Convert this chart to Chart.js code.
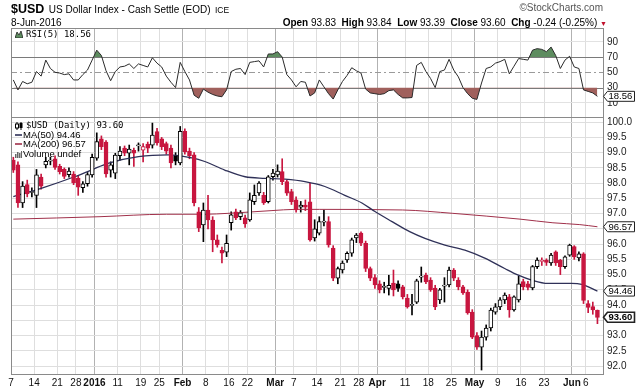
<!DOCTYPE html>
<html><head><meta charset="utf-8">
<script src="https://cdn.jsdelivr.net/npm/chart.js@4.4.1/dist/chart.umd.min.js"></script>
<style>
html,body{margin:0;padding:0;background:#fff;}
#wrap{position:relative;width:640px;height:389px;overflow:hidden;font-family:"Liberation Sans",Arial,sans-serif;color:#000;}
#c{position:absolute;left:0;top:0;}
.t{position:absolute;white-space:nowrap;}
.mono{font-family:"DejaVu Sans Mono",monospace;font-size:9px;line-height:10px;}
.lg{font-family:"Liberation Sans",Arial,sans-serif;font-size:9.5px;line-height:10px;}
.t svg{vertical-align:middle;margin-right:3px;}
</style></head><body>
<div id="wrap">
<canvas id="c" width="640" height="389"></canvas>
<div class="t" style="left:11px;top:0px;line-height:16px;"><span style="font-size:12.5px;font-weight:bold">$USD</span> <span style="font-size:10px">US Dollar Index - Cash Settle (EOD)</span> <span style="font-size:8.5px">ICE</span></div>
<div class="t" style="right:37px;top:1px;font-size:10px;color:#555;line-height:14px">©StockCharts.com</div>
<div class="t" style="left:11px;top:17px;font-size:10px;line-height:12px">8-Jun-2016</div>
<div class="t" style="right:33px;top:16px;font-size:10px;line-height:13px"><b>Open</b> 93.83 &nbsp;<b>High</b> 93.84 &nbsp;<b>Low</b> 93.39 &nbsp;<b>Close</b> 93.60 &nbsp;<b>Chg</b> -0.24 (-0.25%) <span style="color:#c0102c;font-size:7px">▼</span></div>

<div class="t mono" style="left:15px;top:29px;"><svg width="8" height="7"><path d="M0 7 L2 1 L4 4 L6 0 L8 7 Z" fill="#5d8c5f" stroke="#222" stroke-width="0.8"/></svg>RSI(5) 18.56</div>
<div class="t mono" style="left:15px;top:120px;"><svg width="8" height="8"><line x1="2" y1="0" x2="2" y2="8" stroke="#000"/><rect x="0.5" y="2" width="3" height="4" fill="#fff" stroke="#000"/><line x1="6" y1="0" x2="6" y2="8" stroke="#000"/><rect x="4.5" y="1" width="3" height="5" fill="#000"/></svg>$USD (Daily) 93.60</div>
<div class="t lg" style="left:15px;top:129.5px;"><svg width="7" height="4" style="margin-right:1px"><line x1="0" y1="2" x2="7" y2="2" stroke="#2f3158" stroke-width="1.6"/></svg>MA(50) 94.46</div>
<div class="t lg" style="left:15px;top:139px;"><svg width="7" height="4" style="margin-right:1px"><line x1="0" y1="2" x2="7" y2="2" stroke="#a0304a" stroke-width="1.6"/></svg>MA(200) 96.57</div>
<div class="t lg" style="left:15px;top:149px;"><svg width="7" height="7" style="margin-right:1px"><rect x="0" y="3" width="1.5" height="4" fill="#666"/><rect x="2" y="1" width="1.5" height="6" fill="#666"/><rect x="4" y="2" width="1.5" height="5" fill="#666"/><rect x="6" y="0" width="1" height="7" fill="#666"/></svg>Volume undef</div>
</div>
<script>
// ---- data (Dec 7 2015 .. Jun 8 2016, one entry per trading day) ----
const opens = [98.76,98.60,97.35,97.95,97.70,97.60,98.20,98.60,98.72,98.80,
 98.55,98.45,98.28,98.30,98.17,97.85,97.98,98.27,98.82,99.45,
 99.35,98.43,98.33,98.90,99.15,98.98,99.08,99.22,99.08,99.28,
 99.25,99.69,99.45,99.30,99.15,98.90,98.66,99.70,99.05,98.93,
 97.06,96.63,97.12,96.79,96.14,95.80,95.74,96.70,97.06,96.90,
 96.86,96.79,97.39,97.68,97.60,97.39,98.21,98.27,98.38,98.05,
 97.72,97.45,97.21,97.28,97.39,96.20,96.36,96.72,96.74,95.87,
 94.88,95.15,95.48,95.70,96.20,96.36,96.03,95.20,94.90,94.70,
 94.58,94.55,94.72,94.70,94.60,94.23,94.00,94.10,94.92,94.98,
 94.82,94.56,94.17,94.62,94.66,95.15,94.82,94.60,94.43,93.77,
 93.00,92.62,92.95,93.25,93.77,93.94,94.17,94.27,93.84,94.17,
 94.77,94.70,94.56,95.26,95.44,95.48,95.38,95.75,95.48,95.26,
 95.64,95.92,95.55,95.68,94.05,93.95,93.83];
const highs = [98.85,98.70,98.05,98.10,97.85,98.45,98.30,98.85,98.85,98.90,
 98.62,98.50,98.50,98.38,98.25,98.05,98.35,98.95,99.65,99.55,
 99.40,98.70,98.98,99.20,99.22,99.25,99.15,99.32,99.30,99.35,
 99.97,99.80,99.50,99.35,99.25,99.00,99.86,99.78,99.15,99.00,
 97.20,97.35,97.60,96.90,96.30,95.90,96.30,97.06,97.15,97.10,
 96.95,97.68,97.94,98.05,97.70,98.25,98.45,98.60,98.80,98.10,
 97.80,97.55,97.40,97.45,98.00,96.80,96.90,97.12,96.90,95.95,
 95.25,95.45,95.75,96.20,96.35,96.40,96.10,95.25,95.00,94.80,
 94.75,94.98,95.15,94.80,94.65,94.35,94.35,94.85,95.25,95.05,
 94.90,94.65,94.55,94.90,95.25,95.20,94.90,94.65,94.50,93.85,
 93.10,93.15,93.35,93.90,94.05,94.25,94.40,94.35,94.30,94.95,
 94.85,94.78,95.30,95.55,95.55,95.52,95.70,95.78,95.50,95.62,
 96.00,95.95,95.75,95.72,94.15,94.10,93.84];
const lows = [98.35,97.20,97.20,97.55,97.55,97.20,97.80,98.50,98.60,98.45,
 98.30,98.15,98.20,97.95,97.60,97.70,97.90,98.20,98.75,99.10,
 98.20,98.20,98.15,98.75,98.90,98.60,98.55,99.05,98.70,99.00,
 99.15,99.25,99.10,98.95,98.50,98.60,98.60,98.95,98.80,97.25,
 96.41,96.08,96.50,95.75,95.90,95.38,95.59,96.46,96.80,96.80,
 96.55,96.75,97.30,97.60,97.30,97.35,98.10,98.20,97.95,97.60,
 97.30,97.05,97.05,97.10,96.10,96.10,96.30,96.60,95.90,94.80,
 94.70,95.05,95.40,95.60,96.05,95.95,95.10,94.80,94.55,94.40,
 94.40,94.33,94.30,94.45,94.20,93.90,93.68,94.05,94.75,94.70,
 94.45,93.85,94.05,94.10,94.60,94.80,94.50,94.35,93.70,92.90,
 92.55,91.87,92.85,93.15,93.70,93.85,94.05,93.60,93.80,94.10,
 94.50,94.50,94.50,95.20,95.30,95.30,95.30,95.30,95.00,95.20,
 95.60,95.50,95.45,94.05,93.75,93.70,93.39];
const closes = [98.43,97.35,97.90,97.65,97.72,98.27,97.90,98.72,98.76,98.52,
 98.38,98.22,98.40,98.02,97.87,97.98,98.28,98.85,99.36,99.20,
 98.30,98.60,98.92,99.05,98.98,99.12,98.98,99.26,99.20,99.15,
 99.58,99.32,99.20,99.05,98.66,98.72,99.70,99.03,98.90,97.35,
 96.53,97.12,96.79,96.14,95.97,95.70,96.03,96.96,96.86,97.03,
 96.66,97.45,97.60,98.00,97.35,98.21,98.33,98.40,98.05,97.67,
 97.39,97.12,97.28,97.21,96.14,96.50,96.74,96.76,95.97,94.88,
 95.20,95.38,95.70,96.14,96.30,96.03,95.20,94.88,94.66,94.50,
 94.62,94.65,94.50,94.55,94.27,93.94,94.02,94.80,94.95,94.76,
 94.50,93.94,94.50,94.66,95.15,94.88,94.60,94.40,93.74,92.95,
 92.62,92.95,93.25,93.84,93.94,94.17,94.33,93.84,94.27,94.70,
 94.60,94.58,95.26,95.48,95.46,95.40,95.64,95.38,95.26,95.58,
 95.97,95.58,95.68,94.15,93.92,93.84,93.60];
const rsi5 = [40,27,38,35,37,51,45,66,55,50,
 49,47,48,40,40,47,53,66,79,72,
 52,39,51,57,58,61,55,61,59,57,
 69,62,57,45,37,30,63,51,40,20,
 16,28,24,21,19,18,27,51,54,55,
 47,63,64,65,57,74,74,77,70,47,
 40,31,38,37,19,23,40,31,22,15,
 27,38,46,56,52,49,28,23,22,21,
 22,26,27,21,16.5,16.5,17,59,63,51,
 42,30,51,53,67,53,44,30,22,16,
 14.5,36,55,57,62,64,67,48,58,68,
 67,66,79,81,80,77,83,72,55,66,
 71,57,55,27,25,23,18.56];
// moving averages read at sample positions [day index, value]
const ma50Pts = [[0,97.56],[6,97.83],[13.2,98.21],[16.8,98.43],[20.4,98.65],[27,98.87],[33.4,98.93],[38.5,98.83],[41.3,98.71],[45.6,98.43],[50,98.21],[54.3,98.16],[58.6,98.13],[62.9,98.05],[67.2,97.89],[71.5,97.6],[75.2,97.35],[78,97.07],[81.7,96.74],[85.5,96.41],[88.8,96.19],[93.1,95.97],[97.4,95.8],[101.7,95.54],[106,95.2],[108.8,94.99],[111.8,94.82],[115.3,94.71],[120.4,94.71],[122.6,94.68],[126,94.46]];
const ma200Pts = [[0,96.82],[18.7,96.9],[33,96.98],[41.3,96.98],[46.3,97.01],[55.8,97.1],[60.8,97.14],[66,97.14],[84,97.12],[94.8,97.01],[102,96.92],[109.3,96.82],[116.4,96.7],[122.2,96.64],[126,96.57]];
const tickIdx = [0,5,10,14,18,23,28,32,37,42,47,51,57,61,66,71,75,79,85,90,95,100,105,110,115,121,124];
const tickText = ['7','14','21','28','2016','11','19','25','Feb','8','16','22','Mar','7','14','21','28','Apr','11','18','25','May','9','16','23','Jun','6'];
const boldTicks = ['2016','Feb','Mar','Apr','May','Jun'];
const priceTicks = [92,92.5,93,93.5,94,94.5,95,95.5,96,96.5,97,97.5,98,98.5,99,99.5,100];
const rsiTicks = [10,30,50,70,90];
const tagRSI = 18.56, tagMA200 = 96.57, tagMA50 = 94.46, tagClose = 93.60;

// ---- styling ----
const RED = '#c8163f';
const candleColor = closes.map((c,i) => (i > 0 && c >= closes[i-1]) ? '#000' : RED);
const bodyFill = closes.map((c,i) => c > opens[i] ? '#fff' : candleColor[i]);
const bodyData = opens.map((o,i) => {
  let lo = Math.min(o, closes[i]), hi = Math.max(o, closes[i]);
  if (hi - lo < 0.035) { const m = (hi + lo) / 2; lo = m - 0.0175; hi = m + 0.0175; }
  return {x: i, y: [lo, hi]};
});
const wickData = highs.map((h,i) => ({x: i, y: [lows[i], h]}));
const rsiData = rsi5.map((v,i) => ({x: i, y: v}));
const boldSet = new Set(boldTicks);

Chart.defaults.font.family = "'Liberation Sans', Arial, sans-serif";

function tag(ctx, x, y, text, bold) {
  const h = 10, w = 31, p = 4;
  ctx.save();
  ctx.beginPath();
  ctx.moveTo(x, y); ctx.lineTo(x + p, y - h/2); ctx.lineTo(x + w, y - h/2);
  ctx.lineTo(x + w, y + h/2); ctx.lineTo(x + p, y + h/2); ctx.closePath();
  ctx.fillStyle = '#fff'; ctx.fill();
  ctx.lineWidth = bold ? 1.6 : 1; ctx.strokeStyle = '#222'; ctx.stroke();
  ctx.fillStyle = '#000'; ctx.font = (bold ? 'bold ' : '') + "9.5px 'Liberation Sans', Arial, sans-serif";
  ctx.textBaseline = 'middle'; ctx.textAlign = 'left';
  ctx.fillText(text, x + p + 1, y + 0.5);
  ctx.restore();
}

const panels = {
  id: 'panels',
  beforeDatasetsDraw(chart) {
    const {ctx, chartArea: ca, scales} = chart;
    const r = scales.rsi;
    ctx.save();
    ctx.lineWidth = 1;
    ctx.strokeStyle = '#7a7a7a';
    [30, 70].forEach(v => {
      const y = Math.round(r.getPixelForValue(v)) + 0.5;
      ctx.beginPath(); ctx.moveTo(ca.left, y); ctx.lineTo(ca.right, y); ctx.stroke();
    });
    ctx.setLineDash([6, 3, 2, 3]);
    ctx.strokeStyle = '#9a9a9a';
    const y50 = Math.round(r.getPixelForValue(50)) + 0.5;
    ctx.beginPath(); ctx.moveTo(ca.left, y50); ctx.lineTo(ca.right, y50); ctx.stroke();
    ctx.restore();
  },
  afterDraw(chart) {
    const {ctx, chartArea: ca, scales} = chart;
    const r = scales.rsi, p = scales.price;
    ctx.save();
    ctx.strokeStyle = '#8a8a8a'; ctx.lineWidth = 1;
    ctx.strokeRect(Math.round(ca.left) + 0.5, Math.round(r.top) + 0.5, Math.round(ca.right - ca.left), Math.round(r.bottom - r.top));
    ctx.strokeRect(Math.round(ca.left) + 0.5, Math.round(p.top) + 0.5, Math.round(ca.right - ca.left), Math.round(p.bottom - p.top));
    ctx.restore();
    const x0 = ca.right + 0.5;
    tag(ctx, x0, r.getPixelForValue(tagRSI), tagRSI.toFixed(2), false);
    tag(ctx, x0, p.getPixelForValue(tagMA200), tagMA200.toFixed(2), false);
    tag(ctx, x0, p.getPixelForValue(tagMA50), tagMA50.toFixed(2), false);
    tag(ctx, x0, p.getPixelForValue(tagClose), tagClose.toFixed(2), true);
  }
};

new Chart(document.getElementById('c'), {
  type: 'bar',
  data: {
    datasets: [
      {type: 'bar', label: 'body', data: bodyData, backgroundColor: bodyFill, borderColor: candleColor,
       borderWidth: 1, borderSkipped: false, barThickness: 4, grouped: false, xAxisID: 'x', yAxisID: 'price', order: 0},
      {type: 'line', label: 'MA50', data: ma50Pts.map(([x, y]) => ({x, y})), borderColor: '#2f3158', borderWidth: 1.3,
       pointRadius: 0, cubicInterpolationMode: 'monotone', xAxisID: 'x', yAxisID: 'price', order: 1},
      {type: 'line', label: 'MA200', data: ma200Pts.map(([x, y]) => ({x, y})), borderColor: '#a0304a', borderWidth: 1,
       pointRadius: 0, cubicInterpolationMode: 'monotone', xAxisID: 'x', yAxisID: 'price', order: 1},
      {type: 'bar', label: 'wick', data: wickData, backgroundColor: candleColor, borderWidth: 0,
       barThickness: 1, grouped: false, xAxisID: 'x', yAxisID: 'price', order: 2},
      {type: 'line', label: 'RSI', data: rsiData, borderColor: '#2a2a2a', borderWidth: 1, pointRadius: 0, tension: 0,
       fill: {target: {value: 70}, above: '#5d8c5f', below: 'rgba(0,0,0,0)'}, xAxisID: 'x', yAxisID: 'rsi', order: 0},
      {type: 'line', label: 'RSIlow', data: rsiData, borderColor: 'rgba(0,0,0,0)', borderWidth: 0, pointRadius: 0, tension: 0,
       fill: {target: {value: 30}, above: 'rgba(0,0,0,0)', below: '#a0605c'}, xAxisID: 'x', yAxisID: 'rsi', order: 3}
    ]
  },
  options: {
    responsive: false, animation: false, devicePixelRatio: 1,
    layout: {padding: {top: 28, left: 11, right: 0, bottom: 0}},
    plugins: {legend: {display: false}, tooltip: {enabled: false}},
    scales: {
      x: {
        type: 'linear', position: 'bottom', min: -0.5, max: 127.2, bounds: 'data', offset: false,
        afterBuildTicks: s => { s.ticks = tickIdx.map(i => ({value: i - 0.5})); },
        afterFit: s => { s.height = 15; },
        ticks: {autoSkip: false, maxRotation: 0, minRotation: 0, padding: 3, color: '#111',
          font: c => ({size: 10, weight: boldSet.has(tickText[c.index]) ? 'bold' : 'normal'}),
          callback: (v, idx) => tickText[idx]},
        grid: {offset: false, drawTicks: false, lineWidth: 1,
          color: c => boldSet.has(tickText[c.index]) ? '#b2b2b2' : '#dedede'},
        border: {display: false}
      },
      rsi: {
        type: 'linear', position: 'right', stack: 'panes', stackWeight: 89, min: -8.5, max: 108,
        bounds: 'data', beginAtZero: false,
        afterBuildTicks: s => { s.ticks = rsiTicks.map(v => ({value: v})); },
        afterFit: s => { s.width = 37; },
        ticks: {autoSkip: false, padding: 4, color: '#222', font: {size: 10}, callback: v => String(v)},
        grid: {drawTicks: false, color: c => (c.tick && (c.tick.value === 10 || c.tick.value === 90)) ? '#e2e2e2' : 'rgba(0,0,0,0)'},
        border: {display: false}
      },
      price: {
        type: 'linear', position: 'right', stack: 'panes', stackWeight: 257, min: 91.74, max: 100.17,
        bounds: 'data', beginAtZero: false,
        afterBuildTicks: s => { s.ticks = priceTicks.map(v => ({value: v})); },
        afterFit: s => { s.width = 37; },
        ticks: {autoSkip: false, padding: 4, color: '#222', font: {size: 10}, callback: v => Number(v).toFixed(1)},
        grid: {drawTicks: false, color: '#dedede'},
        border: {display: false}
      }
    }
  },
  plugins: [panels]
});
</script>
</body></html>
